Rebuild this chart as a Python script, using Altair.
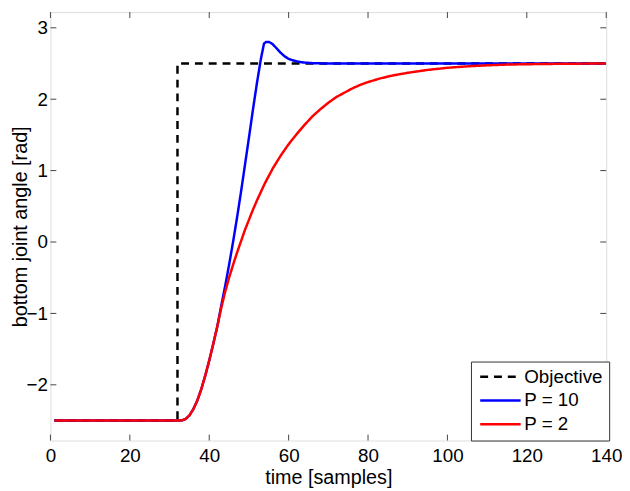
import altair as alt
import pandas as pd

# ---------------- data ----------------
series_names = ["Objective", "P = 10", "P = 2"]
series_colors = ["#000000", "#0000ff", "#ff0000"]

obj_x = [1, 32, 32, 140]
obj_y = [-2.5, -2.5, 2.5, 2.5]

p10_x = [1, 33, 34, 35, 36, 37, 38, 39, 40, 41, 42, 43, 44, 45, 46, 47, 48, 49,
         50, 51, 52, 53, 53.8, 54.3, 55.1, 55.6, 56, 57, 58, 59, 60, 61, 62, 63,
         64, 66, 68, 70, 140]
p10_y = [-2.5, -2.5, -2.48, -2.43, -2.34, -2.22, -2.06, -1.87, -1.66, -1.43, -1.19,
         -0.90, -0.62, -0.32, 0.00, 0.34, 0.70, 1.08, 1.46, 1.85, 2.22, 2.56, 2.78,
         2.80, 2.80, 2.785, 2.77, 2.71, 2.65, 2.60, 2.565, 2.545, 2.53, 2.52, 2.513,
         2.505, 2.502, 2.5, 2.5]

p2_x = [1, 33, 34, 35, 36, 37, 38, 39, 40, 41, 42, 43, 44, 45, 46, 47, 48, 49, 50,
        51, 52, 54, 56, 58, 60, 62, 64, 66, 68, 70, 72, 74, 76, 78, 80, 83, 86, 90,
        95, 100, 105, 110, 115, 120, 130, 140]
p2_y = [-2.5, -2.5, -2.48, -2.43, -2.34, -2.22, -2.06, -1.87, -1.66, -1.43, -1.19,
        -0.93, -0.70, -0.50, -0.32, -0.15, 0.01, 0.17, 0.31, 0.45, 0.58, 0.82, 1.03,
        1.21, 1.37, 1.51, 1.64, 1.76, 1.86, 1.95, 2.03, 2.09, 2.15, 2.20, 2.24, 2.29,
        2.33, 2.37, 2.41, 2.44, 2.46, 2.475, 2.485, 2.49, 2.497, 2.5]

x_ticks = [0, 20, 40, 60, 80, 100, 120, 140]
y_ticks = [-2, -1, 0, 1, 2, 3]
x_domain = [0, 140]
y_domain = [-2.78, 3.22]

# ---------------- layout ----------------
W, H = 563, 434
FONT = "Liberation Sans"
TICK = 6
FRAME = "#444444"


def frame(name, xs, ys):
    return pd.DataFrame({"x": xs, "y": ys, "series": name, "i": range(len(xs))})


legend_cfg = dict(
    title=None,
    orient="none",
    legendX=426,
    legendY=354,
    symbolType="M-0.75,0H4.25",
    symbolSize=269,
    symbolStrokeWidth=2.5,
    labelFontSize=19,
    labelFont=FONT,
    labelColor="black",
    labelOffset=29,
    rowPadding=4,
    padding=6,
    strokeColor="#333333",
    fillColor="white",
    cornerRadius=0,
)

color_enc = alt.Color(
    "series:N",
    scale=alt.Scale(domain=series_names, range=series_colors),
    legend=alt.Legend(**legend_cfg),
)
dash_enc = alt.StrokeDash(
    "series:N",
    scale=alt.Scale(domain=series_names, range=[[8, 6], [1, 0], [1, 0]]),
    legend=alt.Legend(**legend_cfg),
)

x_enc = alt.X(
    "x:Q",
    scale=alt.Scale(domain=x_domain, nice=False, zero=False),
    axis=alt.Axis(
        values=x_ticks, format="d", ticks=False, domain=False, grid=False,
        labelFontSize=19, labelFont=FONT, labelColor="black", labelPadding=6,
        labelFlush=False,
        title="time [samples]", titleFontSize=20, titleFont=FONT,
        titleFontWeight="normal", titleColor="black",
        titleY=28, titleBaseline="top",
    ),
)
y_enc = alt.Y(
    "y:Q",
    scale=alt.Scale(domain=y_domain, nice=False, zero=False),
    axis=alt.Axis(
        values=y_ticks, format="d", ticks=False, domain=False, grid=False,
        labelFontSize=19, labelFont=FONT, labelColor="black", labelPadding=3,
        labelFlush=False,
        title="bottom joint angle [rad]", titleFontSize=20, titleFont=FONT,
        titleFontWeight="normal", titleColor="black",
        titleX=-24, titleBaseline="alphabetic",
    ),
)


def series_layer(df):
    return alt.Chart(df).mark_line(strokeWidth=2.5, clip=True).encode(
        x=x_enc, y=y_enc, color=color_enc, strokeDash=dash_enc, order="i:Q"
    )


obj_layer = series_layer(frame("Objective", obj_x, obj_y))
p10_layer = series_layer(frame("P = 10", p10_x, p10_y))
p2_layer = series_layer(frame("P = 2", p2_x, p2_y))

xt = pd.DataFrame({"t": x_ticks})
yt = pd.DataFrame({"t": y_ticks})
xs = alt.Scale(domain=x_domain, nice=False, zero=False)
ys = alt.Scale(domain=y_domain, nice=False, zero=False)

tick_bottom = alt.Chart(xt).mark_rule(color=FRAME, strokeWidth=1).encode(
    x=alt.X("t:Q", scale=xs), y=alt.value(H), y2=alt.value(H - TICK))
tick_top = alt.Chart(xt).mark_rule(color=FRAME, strokeWidth=1).encode(
    x=alt.X("t:Q", scale=xs), y=alt.value(0), y2=alt.value(TICK))
tick_left = alt.Chart(yt).mark_rule(color=FRAME, strokeWidth=1).encode(
    y=alt.Y("t:Q", scale=ys), x=alt.value(0), x2=alt.value(TICK))
tick_right = alt.Chart(yt).mark_rule(color=FRAME, strokeWidth=1).encode(
    y=alt.Y("t:Q", scale=ys), x=alt.value(W), x2=alt.value(W - TICK))

chart = (
    alt.layer(obj_layer, p10_layer, p2_layer,
              tick_bottom, tick_top, tick_left, tick_right)
    .properties(
        width=W, height=H,
        autosize=alt.AutoSizeParams(type="none"),
        padding={"left": 43, "top": 1, "right": 16, "bottom": 48},
        background="white",
    )
    .configure_view(stroke=FRAME, strokeWidth=1)
    .configure(font=FONT)
)

chart.save("out.html", embed_options={"renderer": "svg", "actions": False})
